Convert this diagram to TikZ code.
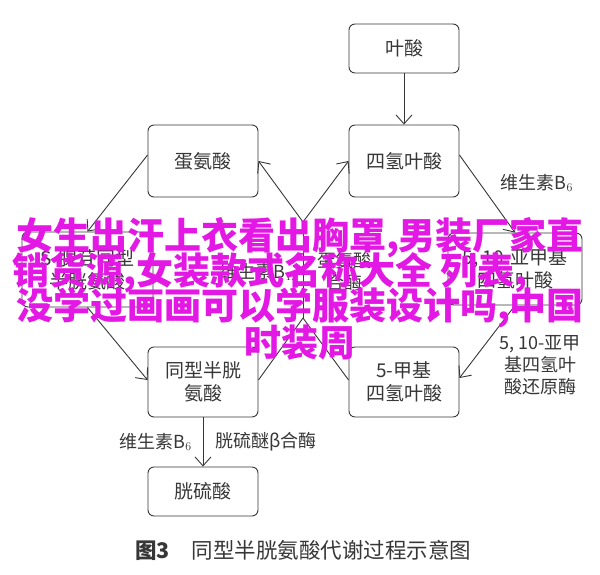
\documentclass[tikz,border=0pt]{standalone}
\usepackage{fontspec}
\setmainfont{Noto Sans CJK SC}
\usetikzlibrary{arrows.meta}
\definecolor{ink}{RGB}{55,55,55}
\definecolor{pink}{RGB}{228,24,228}
\begin{document}
\begin{tikzpicture}[x=1pt,y=1pt,
  box/.style={draw=ink, line width=0.9pt, rounded corners=6pt, minimum width=110pt, minimum height=72pt, align=center, text=ink, font=\fontsize{19}{23}\selectfont, inner sep=0pt},
  arr/.style={draw=ink, line width=0.9pt, -{Straight Barb[length=9pt,width=16pt]}},
  lnk/.style={draw=ink, line width=0.9pt},
  lbl/.style={text=ink, font=\fontsize{18}{22}\selectfont, align=center, inner sep=0pt},
  ad/.style={text=pink, font=\fontsize{37}{37}\selectfont\bfseries, inner sep=0pt}]
\useasboundingbox (0,0) rectangle (600,-574);
\fill[white] (0,0) rectangle (600,-574);
% boxes
\node[box, minimum height=49pt] (folate) at (404,-48.5) {叶酸};
\node[box] (met) at (203,-161) {蛋氨酸};
\node[box] (thf) at (404,-161) {四氢叶酸};
\node[box, minimum width=131pt, minimum height=75pt] (sah) at (87.5,-269.5) {S-腺苷同型\\半胱氨酸};
\node[box, minimum width=134pt] (mtf) at (515,-269) {5, 10-亚甲基\\四氢叶酸};
\node[box, minimum height=70pt] (hcy) at (203,-382) {同型半胱\\氨酸};
\node[box, minimum height=70pt] (mthf) at (404,-382) {5-甲基\\四氢叶酸};
\node[box, minimum height=49pt] (cys) at (203,-491.5) {胱硫酸};
% junction points
\coordinate (top) at (303,-222);
\coordinate (bot) at (303,-318);
% connectors
\path[arr] (folate) -- (thf);
\path[arr] ([yshift=6pt]thf.east) -- (mtf.north);
\path[arr] (mtf.south) -- ([yshift=4pt]mthf.east);
\path[lnk] ([yshift=2pt]mthf.west) -- (bot);
\path[lnk] ([yshift=2pt]hcy.east) -- (bot);
\path[lnk] (bot) -- (top);
\path[arr] (top) -- (met.east);
\path[arr] (top) -- (thf.west);
\path[arr] ([yshift=6pt]met.west) -- (sah.north);
\path[arr] (sah.south) -- ([yshift=2pt]hcy.west);
\path[arr] (hcy) -- (cys);
% labels
\node[lbl] (b6a) at (537,-183) {维生素B$_6$};
\node[lbl] (mtfr) at (540,-365) {5, 10-亚甲\\基四氢叶\\酸还原酶};
\node[lbl, anchor=east] (b12) at (298,-272) {维生素B$_{12}$};
\node[lbl] (ms) at (344,-272) {蛋氨酸\\合酶};
\node[lbl, anchor=east] (b6b) at (192,-442) {维生素B$_6$};
\node[lbl, anchor=west] (cbs) at (215,-442) {胱硫醚β合酶};
\node[text=ink, anchor=west, inner sep=0pt, font=\fontsize{21.5}{24}\selectfont] (cap) at (135,-550) {{\bfseries 图3}\hspace{22pt}同型半胱氨酸代谢过程示意图};
% overlay text
\node[ad] (ad1) at (300,-238) {女生出汗上衣看出胸罩,男装厂家直};
\node[ad, anchor=west] (ad2) at (12,-273) {销货源,女装款式名称大全 列表,};
\node[ad] (ad3) at (300,-308) {没学过画画可以学服装设计吗,中国};
\node[ad] (ad4) at (300,-343) {时装周};
\end{tikzpicture}
\end{document}
